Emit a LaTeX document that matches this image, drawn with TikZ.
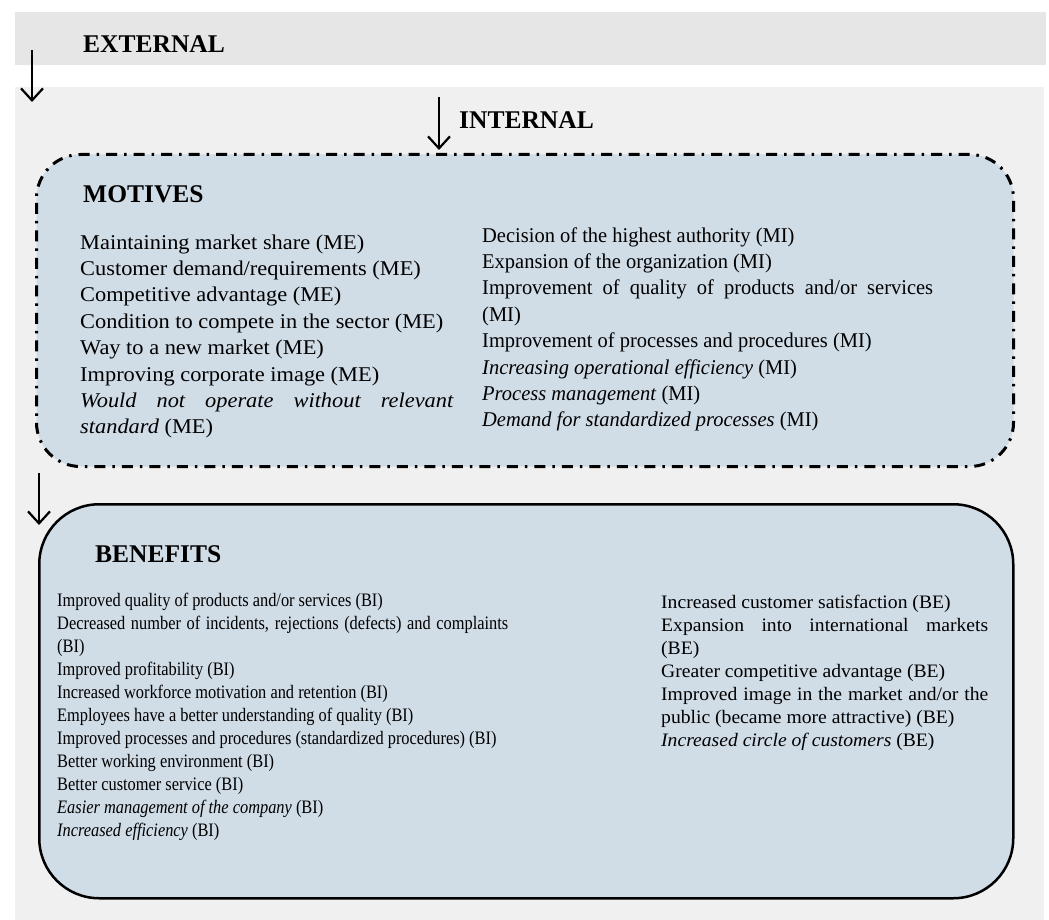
\documentclass[tikz,border=0pt]{standalone}
\usepackage{fontspec}
\setmainfont{Liberation Serif}
\usepackage{graphicx}
\usetikzlibrary{arrows.meta}
\definecolor{extgray}{HTML}{E6E6E6}
\definecolor{intgray}{HTML}{F0F0F0}
\definecolor{boxblue}{HTML}{D0DCE6}
\newcommand\motfont{\fontsize{21}{26.4}\selectfont\hyphenpenalty=10000\relax}
\newcommand\benfont{\fontsize{19}{23}\selectfont\hyphenpenalty=10000\relax}
\tikzset{
  band/.style={fill=#1, draw=none, inner sep=0pt, anchor=north west},
  heading/.style={inner sep=0pt, anchor=base west, font=\fontsize{25.5}{30}\selectfont\bfseries},
  bodytext/.style={inner sep=0pt, anchor=base west},
  flowarrow/.style={line width=2.2pt, -{Straight Barb[length=12pt,width=22pt]}},
  motivesbox/.style={draw, fill=boxblue, line width=3pt, dash pattern=on 11pt off 7pt on 2.5pt off 7pt, rounded corners=44pt, inner sep=0pt, anchor=north west},
  benefitsbox/.style={draw, fill=boxblue, line width=2.5pt, rounded corners=60pt, inner sep=0pt, anchor=north west},
}
\begin{document}
\begin{tikzpicture}[x=1pt,y=-1pt]
\useasboundingbox (0,0) rectangle (1049,920);
\fill[white] (0,0) rectangle (1049,920);
% bands
\node[band=extgray, minimum width=1031pt, minimum height=53pt] (ext) at (15,12) {};
\node[band=intgray, minimum width=1029pt, minimum height=833pt] (int) at (15,87) {};
% boxes
\node[motivesbox, minimum width=977pt, minimum height=312pt] (mot) at (35,153) {};
\node[benefitsbox, minimum width=974pt, minimum height=394pt] (ben) at (38,503) {};
% arrows
\coordinate (a1s) at (32,50); \coordinate (a1e) at (32,102);
\coordinate (a2s) at (439,97); \coordinate (a2e) at (439,150);
\coordinate (a3s) at (39,473); \coordinate (a3e) at (39,525);
\draw[flowarrow] (a1s) -- (a1e);
\draw[flowarrow] (a2s) -- (a2e);
\draw[flowarrow] (a3s) -- (a3e);
% headings
\node[heading] (exth) at (83,53) {EXTERNAL};
\node[heading] (inth) at (459,129) {INTERNAL};
\node[heading] (moth) at (83,203) {MOTIVES};
\node[heading] (benh) at (95,562) {BENEFITS};
% motives text
\node[bodytext] (motL) at (80,249) {\scalebox{1.066}[1]{\parbox[t]{350pt}{\motfont
Maintaining market share (ME)\par
Customer demand/requirements (ME)\par
Competitive advantage (ME)\par
Condition to compete in the sector (ME)\par
Way to a new market (ME)\par
Improving corporate image (ME)\par
\textit{Would not operate without relevant\linebreak standard} (ME)\par}}};
\node[bodytext] (motR) at (482,242) {\scalebox{0.975}[1]{\parbox[t]{462.5pt}{\motfont
Decision of the highest authority (MI)\par
Expansion of the organization (MI)\par
Improvement of quality of products and/or services\linebreak (MI)\par
Improvement of processes and procedures (MI)\par
\textit{Increasing operational efficiency} (MI)\par
\textit{Process management} (MI)\par
\textit{Demand for standardized processes} (MI)\par}}};
% benefits text
\node[bodytext] (benL) at (57,606) {\scalebox{0.862}[1]{\parbox[t]{523.2pt}{\benfont
Improved quality of products and/or services (BI)\par
Decreased number of incidents, rejections (defects) and complaints\linebreak (BI)\par
Improved profitability (BI)\par
Increased workforce motivation and retention (BI)\par
Employees have a better understanding of quality (BI)\par
Improved processes and procedures (standardized procedures) (BI)\par
Better working environment (BI)\par
Better customer service (BI)\par
\textit{Easier management of the company} (BI)\par
\textit{Increased efficiency} (BI)\par}}};
\node[bodytext] (benR) at (661,608) {\scalebox{1.033}[1]{\parbox[t]{316.6pt}{\benfont
Increased customer satisfaction (BE)\par
Expansion into international markets\linebreak (BE)\par
Greater competitive advantage (BE)\par
Improved image in the market and/or the\linebreak public (became more attractive) (BE)\par
\textit{Increased circle of customers} (BE)\par}}};
\end{tikzpicture}
\end{document}
